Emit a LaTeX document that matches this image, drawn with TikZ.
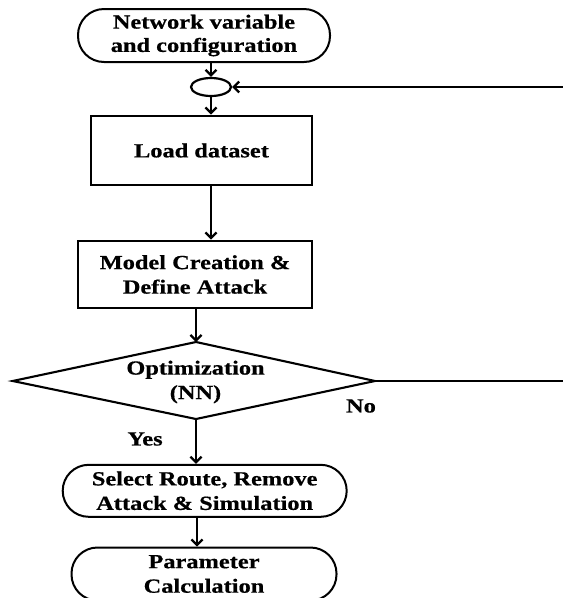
\documentclass[tikz,border=0pt]{standalone}
\usepackage{fontspec}
\setmainfont{Liberation Serif}[FakeStretch=1.22,FakeBold=0.6]
\usetikzlibrary{shapes.geometric,arrows.meta}
\tikzset{
  lbl/.style={font=\bfseries\fontsize{20}{24.5}\selectfont, align=center, inner sep=0pt},
  stadium/.style={draw, line width=2pt, rounded corners=26pt, lbl},
  boxnode/.style={draw, line width=2.8pt, lbl},
  arr/.style={line width=2.3pt, -{Straight Barb[length=5.5pt,width=11pt,line width=2.3pt]}},
  plain/.style={line width=2.3pt},
}
\begin{document}
\begin{tikzpicture}[x=1pt,y=-1pt]
\useasboundingbox (0,0) rectangle (563,598);
% nodes
\node[stadium, minimum width=252pt, minimum height=53pt, font=\bfseries\fontsize{20}{23.3}\selectfont] (net) at (204,35.5) {Network variable\\and configuration};
\node[draw, ellipse, line width=2.2pt, minimum width=40pt, minimum height=18pt, inner sep=0pt] (circ) at (211,87) {};
\node[boxnode, minimum width=221pt, minimum height=69pt] (load) at (201.5,150.5) {Load dataset};
\node[boxnode, minimum width=234pt, minimum height=67pt] (model) at (195,274.5) {Model Creation \&\\Define Attack};
\coordinate (dleft) at (12.7,381);
\coordinate (dtop) at (196,342);
\coordinate (dright) at (375,381);
\coordinate (dbot) at (196,419);
\draw[line width=2.1pt, line join=miter] (dleft) -- (dtop) -- (dright) -- (dbot) -- cycle;
\node[lbl] (opt) at (195.5,382) {Optimization\\(NN)};
\node[stadium, minimum width=284pt, minimum height=52pt] (sel) at (204.7,490.8) {Select Route, Remove\\Attack \& Simulation};
\node[stadium, minimum width=265pt, minimum height=53pt] (par) at (204,574) {Parameter\\Calculation};
\node[lbl] (yes) at (145,439) {Yes};
\node[lbl] (no) at (361,406) {No};
\coordinate (fb) at (563,87);
\coordinate (noend) at (563,381);
% connectors
\draw[arr] (circ.north |- net.south) -- (circ.north);
\draw[arr] (fb) -- (circ.east);
\draw[arr] (circ.south) -- (circ.south |- load.north);
\draw[arr] (load.south -| circ.south) -- (circ.south |- model.north);
\draw[arr] (dtop |- model.south) -- (dtop);
\draw[arr] (dbot) -- (dbot |- sel.north);
\draw[arr] ([xshift=1pt]sel.south -| dbot) -- ([xshift=1pt]par.north -| dbot);
\draw[plain] (dright) -- (noend);
\end{tikzpicture}
\end{document}
